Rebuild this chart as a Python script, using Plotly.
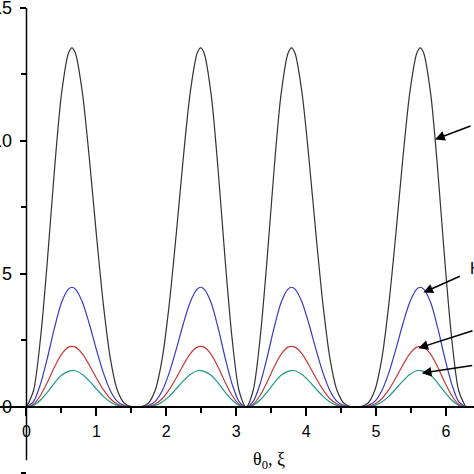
import math
import plotly.graph_objects as go

# ---- data (one lobe, x in [0, pi/2]) ----
lobe_x = [0, 0.1, 0.2, 0.3, 0.4, 0.5, 0.6, 0.65, 0.7, 0.8, 0.9, 1.0, 1.1, 1.2, 1.3, 1.4, 1.5, 1.5708]
black_lobe = [0, 0.61, 2.57, 5.54, 8.91, 11.75, 13.3, 13.5, 13.3, 11.81, 9.32, 6.48, 3.85, 1.82, 0.63, 0.14, 0.01, 0]
blue_lobe = [0, 0.20, 0.86, 1.85, 2.97, 3.92, 4.43, 4.5, 4.43, 3.94, 3.11, 2.16, 1.28, 0.61, 0.21, 0.05, 0, 0]
red_lobe = [0, 0.10, 0.43, 0.93, 1.50, 1.98, 2.25, 2.28, 2.25, 2.0, 1.57, 1.09, 0.65, 0.31, 0.11, 0.02, 0, 0]
teal_lobe = [0, 0.06, 0.26, 0.56, 0.90, 1.19, 1.34, 1.37, 1.36, 1.22, 0.97, 0.68, 0.40, 0.19, 0.06, 0.01, 0, 0]

x_ticks = [0, 1, 2, 3, 4, 5, 6]
y_ticks = [0, 5, 10, 15]

PI = math.pi


def full_period(xs, ys):
    # the curve repeats: lobe, mirrored lobe, lobe, mirrored lobe over [0, 2*pi]
    X, Y = [], []
    X += xs; Y += ys
    X += [PI - v for v in reversed(xs)][1:]; Y += list(reversed(ys))[1:]
    X += [PI + v for v in xs][1:]; Y += ys[1:]
    X += [2 * PI - v for v in reversed(xs)][1:]; Y += list(reversed(ys))[1:]
    return X, Y


series = [
    (black_lobe, "#333333"),
    (blue_lobe, "#3a3ac4"),
    (red_lobe, "#c83a3a"),
    (teal_lobe, "#1e9a8a"),
]

fig = go.Figure()
for ys, col in series:
    X, Y = full_period(lobe_x, ys)
    fig.add_trace(go.Scatter(x=X, y=Y, mode="lines",
                             line=dict(color=col, width=1.2, shape="spline", smoothing=0.8),
                             showlegend=False, hoverinfo="skip"))

xr = [-0.379, 6.402]
yr = [-2.52, 15.30]

fig.update_layout(
    width=474, height=474,
    margin=dict(l=0, r=0, t=0, b=0, pad=0),
    paper_bgcolor="white", plot_bgcolor="white",
    font=dict(family="Liberation Sans, Arial, sans-serif", size=16, color="black"),
    xaxis=dict(range=xr, anchor="free", position=(0 - yr[0]) / (yr[1] - yr[0]),
               automargin=False, domain=[0, 1],
               showline=True, linecolor="black", linewidth=1.5,
               showgrid=False, zeroline=False,
               tickmode="array", tickvals=x_ticks, ticktext=[str(v) for v in x_ticks],
               ticks="outside", ticklen=8, tickwidth=1.5, tickcolor="black",
               minor=dict(dtick=0.5, ticks="outside", ticklen=5, tickwidth=1.5, tickcolor="black", showgrid=False),
               ticklabelstandoff=2),
    yaxis=dict(range=yr, anchor="free", position=(0 - xr[0]) / (xr[1] - xr[0]),
               automargin=False, domain=[0, 1],
               showline=False, showgrid=False, zeroline=False,
               tickmode="array", tickvals=y_ticks, showticklabels=False,
               ticks="outside", ticklen=6, tickwidth=1.5, tickcolor="black",
               minor=dict(dtick=2.5, ticks="outside", ticklen=5, tickwidth=1.5, tickcolor="black", showgrid=False)),
)

# vertical axis line from -2 to 15
fig.add_shape(type="line", xref="x", yref="y", x0=0, x1=0, y0=-2.0, y1=15,
              line=dict(color="black", width=1.5))

# y tick labels (left digits cut off by the image edge, as in the original)
for v in y_ticks:
    fig.add_annotation(xref="paper", yref="y", x=13.5 / 474, y=v, xanchor="right", yanchor="middle",
                       text=str(v), showarrow=False, font=dict(size=18, color="black"))

# axis title
fig.add_annotation(xref="paper", yref="paper", x=0.568, y=0.028, xanchor="center", yanchor="middle",
                   text="θ<sub>0</sub>, ξ", showarrow=False,
                   font=dict(family="Liberation Serif, Times New Roman, serif", size=18, color="black"))

# arrows pointing to curves (labels cut off at the right edge)
arrows = [
    (5.844, 10.06, 37, -14),
    (5.677, 4.30, 38, -17),
    (5.605, 2.21, 56, -18),
    (5.654, 1.27, 52, -8),
]
for hx, hy, ax, ay in arrows:
    fig.add_annotation(x=hx, y=hy, xref="x", yref="y", ax=ax, ay=ay, text="",
                       showarrow=True, arrowhead=2, arrowsize=1.3, arrowwidth=1.5, arrowcolor="black")

fig.add_annotation(xref="paper", yref="paper", x=468 / 474, y=(474 - 268) / 474, xanchor="left", yanchor="middle",
                   text="H", showarrow=False, font=dict(size=16, color="black"))

fig.write_html("out.html")
